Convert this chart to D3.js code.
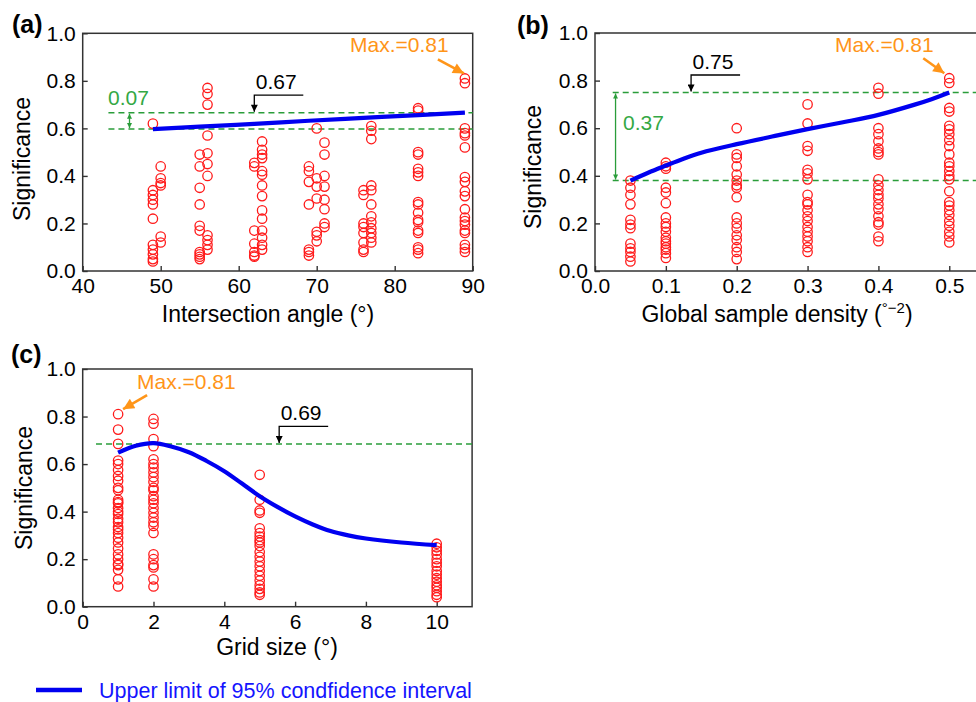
<!DOCTYPE html>
<html>
<head>
<meta charset="utf-8">
<script src="https://cdn.jsdelivr.net/npm/d3@7"></script>
<style>
  body { margin: 0; background: #fff; }
  svg { display: block; font-family: "Liberation Sans", Arial, sans-serif; }
</style>
</head>
<body>
<svg id="chart" width="976" height="702"></svg>
<script>
// ---------- Panel (a): Intersection angle ----------
const aX = [49, 50, 55, 56, 62, 63, 69, 70, 71, 76, 77, 83, 89];
const aY = [
  [0.62, 0.34, 0.32, 0.30, 0.28, 0.22, 0.11, 0.09, 0.07, 0.05, 0.04],
  [0.44, 0.39, 0.37, 0.36, 0.145, 0.12],
  [0.49, 0.44, 0.35, 0.28, 0.19, 0.17, 0.08, 0.07, 0.06, 0.05],
  [0.77, 0.745, 0.70, 0.57, 0.495, 0.45, 0.40, 0.15, 0.13, 0.11, 0.09],
  [0.455, 0.44, 0.17, 0.115, 0.08, 0.065, 0.06],
  [0.545, 0.51, 0.49, 0.475, 0.42, 0.405, 0.36, 0.315, 0.255, 0.22, 0.17, 0.14, 0.11, 0.09],
  [0.44, 0.42, 0.375, 0.28, 0.09, 0.08, 0.065],
  [0.60, 0.39, 0.355, 0.305, 0.165, 0.15, 0.125],
  [0.54, 0.49, 0.40, 0.355, 0.30, 0.26, 0.20, 0.185],
  [0.34, 0.32, 0.20, 0.185, 0.16, 0.12, 0.09, 0.08],
  [0.61, 0.59, 0.555, 0.36, 0.34, 0.28, 0.23, 0.205, 0.18, 0.16, 0.14, 0.12],
  [0.685, 0.675, 0.50, 0.49, 0.43, 0.415, 0.40, 0.29, 0.28, 0.245, 0.215, 0.205, 0.17, 0.16, 0.10, 0.09, 0.075],
  [0.81, 0.79, 0.60, 0.58, 0.57, 0.52, 0.395, 0.375, 0.335, 0.315, 0.26, 0.225, 0.21, 0.195, 0.17, 0.16, 0.11, 0.095, 0.08]
];
const aCurveX = [49, 55, 62, 69, 76, 83, 89];
const aCurveY = [0.597, 0.607, 0.619, 0.632, 0.644, 0.656, 0.666];
const aXTicks = [40, 50, 60, 70, 80, 90];

// ---------- Panel (b): Global sample density ----------
const bX = [0.05, 0.1, 0.2, 0.3, 0.4, 0.5];
const bY = [
  [0.38, 0.35, 0.32, 0.28, 0.215, 0.195, 0.18, 0.115, 0.095, 0.08, 0.06, 0.04],
  [0.455, 0.44, 0.43, 0.35, 0.33, 0.285, 0.225, 0.20, 0.185, 0.165, 0.14, 0.125, 0.115, 0.10, 0.09, 0.075, 0.055],
  [0.60, 0.49, 0.475, 0.44, 0.405, 0.38, 0.36, 0.35, 0.31, 0.225, 0.20, 0.18, 0.15, 0.13, 0.10, 0.08, 0.05],
  [0.70, 0.62, 0.525, 0.505, 0.425, 0.41, 0.385, 0.32, 0.29, 0.28, 0.255, 0.23, 0.21, 0.185, 0.165, 0.145, 0.125, 0.10, 0.08],
  [0.77, 0.745, 0.60, 0.575, 0.545, 0.515, 0.50, 0.49, 0.385, 0.36, 0.34, 0.32, 0.305, 0.28, 0.26, 0.23, 0.205, 0.195, 0.145, 0.125],
  [0.81, 0.79, 0.685, 0.67, 0.61, 0.595, 0.575, 0.55, 0.525, 0.49, 0.455, 0.44, 0.42, 0.40, 0.385, 0.335, 0.29, 0.275, 0.255, 0.235, 0.21, 0.19, 0.165, 0.145, 0.12]
];
const bCurveX = [0.05, 0.075, 0.1, 0.125, 0.15, 0.2, 0.25, 0.3, 0.35, 0.4, 0.45, 0.475, 0.5];
const bCurveY = [0.38, 0.413, 0.443, 0.472, 0.497, 0.533, 0.565, 0.596, 0.625, 0.656, 0.698, 0.722, 0.75];
const bXTicks = [0.0, 0.1, 0.2, 0.3, 0.4, 0.5];

// ---------- Panel (c): Grid size ----------
const cX = [1, 2, 5, 10];
const cY = [
  [0.81, 0.745, 0.685, 0.615, 0.60, 0.575, 0.55, 0.53, 0.50, 0.49, 0.45, 0.44, 0.435, 0.415, 0.40, 0.39, 0.37, 0.355, 0.335, 0.325, 0.31, 0.29, 0.27, 0.245, 0.22, 0.20, 0.18, 0.175, 0.155, 0.115, 0.085],
  [0.79, 0.77, 0.705, 0.675, 0.62, 0.60, 0.585, 0.565, 0.545, 0.525, 0.50, 0.49, 0.465, 0.45, 0.435, 0.415, 0.395, 0.375, 0.355, 0.34, 0.31, 0.22, 0.20, 0.175, 0.165, 0.115, 0.085],
  [0.555, 0.45, 0.405, 0.395, 0.33, 0.31, 0.295, 0.28, 0.27, 0.255, 0.23, 0.21, 0.19, 0.17, 0.15, 0.13, 0.11, 0.09, 0.075, 0.06, 0.05],
  [0.265, 0.25, 0.235, 0.22, 0.20, 0.185, 0.17, 0.15, 0.135, 0.12, 0.105, 0.09, 0.08, 0.065, 0.05, 0.04]
];
const cCurveX = [1, 1.5, 2, 2.5, 3, 3.5, 4, 4.5, 5, 5.5, 6, 6.5, 7, 7.5, 8, 9, 10];
const cCurveY = [0.648, 0.677, 0.688, 0.674, 0.650, 0.613, 0.570, 0.518, 0.465, 0.420, 0.380, 0.346, 0.318, 0.300, 0.287, 0.270, 0.259];
const cXTicks = [0, 2, 4, 6, 8, 10];

const yTicks = [0.0, 0.2, 0.4, 0.6, 0.8, 1.0];
const maxLabel = "Max.=0.81";
const legendLabel = "Upper limit of 95% condfidence interval";

// ---------- styles ----------
const RED = "#ff1a1a", BLUE = "#0000f0", GREEN = "#2a9d3a", GREEN_TXT = "#34a844",
      ORANGE = "#ff9519", AXIS = "#333";
const TICK_FS = 21, TITLE_FS = 23, ANN_FS = 21;

const svg = d3.select("#chart");
const defs = svg.append("defs");
function marker(id, color, w, h) {
  defs.append("marker").attr("id", id).attr("viewBox", "0 0 10 10")
    .attr("refX", 10).attr("refY", 5).attr("markerUnits", "userSpaceOnUse")
    .attr("markerWidth", w).attr("markerHeight", h).attr("orient", "auto-start-reverse")
    .append("path").attr("d", "M0,0 L10,5 L0,10 z").attr("fill", color);
}
marker("arrBlack", "#000", 9, 7);
marker("arrGreen", GREEN, 6, 5);
marker("arrOrange", ORANGE, 13, 11);

function panel(cfg) {
  const { x, y, xs, ys, curveX, curveY, xTicks, xFmt } = cfg;
  const g = svg.append("g");
  const [x0, x1] = x.range();
  const [y0, y1] = y.range();

  // axes (ticks inward)
  const ax = g.append("g").attr("transform", `translate(0,${y0})`)
    .call(d3.axisBottom(x).tickValues(xTicks).tickFormat(xFmt).tickSizeInner(-5).tickSizeOuter(0).tickPadding(7.5));
  const ay = g.append("g").attr("transform", `translate(${x0},0)`)
    .call(d3.axisLeft(y).tickValues(yTicks).tickFormat(d3.format(".1f")).tickSizeInner(-5).tickSizeOuter(0).tickPadding(7));
  [ax, ay].forEach(a => {
    a.select(".domain").remove();
    a.selectAll(".tick line").attr("stroke", AXIS).attr("stroke-width", 1.4);
    a.selectAll(".tick text").attr("fill", "#000").style("font-size", TICK_FS + "px")
      .style("font-family", '"Liberation Sans", Arial, sans-serif');
  });

  // frame
  g.append("rect").attr("x", x0).attr("y", y1).attr("width", x1 - x0).attr("height", y0 - y1)
    .attr("fill", "none").attr("stroke", AXIS).attr("stroke-width", 1.5);

  // reference lines
  cfg.refs.forEach(r => {
    g.append("line").attr("x1", x(cfg.refStart)).attr("x2", x1).attr("y1", y(r)).attr("y2", y(r))
      .attr("stroke", GREEN).attr("stroke-width", 1.5).attr("stroke-dasharray", "6,4");
  });

  // points
  const pts = [];
  xs.forEach((xv, i) => ys[i].forEach(v => pts.push([xv, v])));
  g.append("g").selectAll("circle").data(pts).join("circle")
    .attr("cx", d => x(d[0])).attr("cy", d => y(d[1])).attr("r", 4.7)
    .attr("fill", "none").attr("stroke", RED).attr("stroke-width", 1.3);

  // curve
  const line = d3.line().x((d, i) => x(curveX[i])).y(d => y(d)).curve(d3.curveCatmullRom.alpha(0.5));
  g.append("path").attr("d", line(curveY)).attr("fill", "none")
    .attr("stroke", BLUE).attr("stroke-width", 4.2).attr("stroke-linecap", "butt");

  // black elbow annotation
  const tipX = x(cfg.annX), tipY = y(cfg.annV);
  const elbowY = tipY - 17.5;
  g.append("path").attr("d", `M${tipX + 49},${elbowY} L${tipX},${elbowY} L${tipX},${tipY - 1}`)
    .attr("fill", "none").attr("stroke", "#000").attr("stroke-width", 1.3)
    .attr("marker-end", "url(#arrBlack)");
  g.append("text").attr("x", tipX + 1.5).attr("y", elbowY - 6.5).text(cfg.annText)
    .style("font-size", ANN_FS + "px").attr("fill", "#000");

  // green double arrow
  if (cfg.gap) {
    const gx = x(cfg.gap.x);
    g.append("line").attr("x1", gx).attr("x2", gx)
      .attr("y1", y(cfg.refs[0]) + 1).attr("y2", y(cfg.refs[1]) - 1)
      .attr("stroke", GREEN).attr("stroke-width", 1.3)
      .attr("marker-start", "url(#arrGreen)").attr("marker-end", "url(#arrGreen)");
    g.append("text").attr("x", cfg.gap.tx).attr("y", cfg.gap.ty).text(cfg.gap.text)
      .style("font-size", ANN_FS + "px").attr("fill", GREEN_TXT);
  }

  // orange max annotation
  const px = x(cfg.max.x), py = y(cfg.max.v);
  g.append("line").attr("x1", px + cfg.max.from[0]).attr("y1", py + cfg.max.from[1])
    .attr("x2", px + cfg.max.to[0]).attr("y2", py + cfg.max.to[1])
    .attr("stroke", ORANGE).attr("stroke-width", 2.6).attr("marker-end", "url(#arrOrange)");
  g.append("text").attr("x", cfg.max.tx).attr("y", cfg.max.ty).text(maxLabel)
    .style("font-size", ANN_FS + "px").attr("fill", ORANGE);

  // panel label
  g.append("text").attr("x", cfg.label[1]).attr("y", cfg.label[2]).text(cfg.label[0])
    .style("font-size", "25px").style("font-weight", "bold").attr("fill", "#000");

  // y title
  g.append("text").attr("transform", `translate(${cfg.yTitle[0]},${cfg.yTitle[1]}) rotate(-90)`)
    .attr("text-anchor", "middle").text("Significance")
    .style("font-size", TITLE_FS + "px").attr("fill", "#000");

  // x title
  const xt = g.append("text").attr("x", cfg.xTitle[0]).attr("y", cfg.xTitle[1])
    .attr("text-anchor", "middle").style("font-size", TITLE_FS + "px").attr("fill", "#000");
  cfg.xTitleParts.forEach(p => {
    const t = xt.append("tspan").text(p.t);
    if (p.sup) t.attr("dy", -9).style("font-size", "15px");
    if (p.down) t.attr("dy", 9);
  });
}

// Panel (a)
panel({
  x: d3.scaleLinear([40, 90], [82.7, 472.7]),
  y: d3.scaleLinear([0, 1], [271, 33.3]),
  xs: aX, ys: aY, curveX: aCurveX, curveY: aCurveY, xTicks: aXTicks, xFmt: d3.format("d"),
  refs: [0.666, 0.597], refStart: 43.3,
  annX: 62, annV: 0.666, annText: "0.67",
  gap: { x: 46, text: "0.07", tx: 108, ty: 105 },
  max: { x: 89, v: 0.81, from: [-27, -19], to: [-1, -5], tx: 350, ty: 52 },
  label: ["(a)", 12, 33],
  yTitle: [30, 159],
  xTitle: [268, 322],
  xTitleParts: [{ t: "Intersection angle (°)" }]
});

// Panel (b)
panel({
  x: d3.scaleLinear([0, 0.55], [595, 984.7]),
  y: d3.scaleLinear([0, 1], [271, 33]),
  xs: bX, ys: bY, curveX: bCurveX, curveY: bCurveY, xTicks: bXTicks, xFmt: d3.format(".1f"),
  refs: [0.75, 0.38], refStart: 0.025,
  annX: 0.1356, annV: 0.75, annText: "0.75",
  gap: { x: 0.029, text: "0.37", tx: 623, ty: 130 },
  max: { x: 0.5, v: 0.81, from: [-26, -20], to: [-5, -5], tx: 835, ty: 52 },
  label: ["(b)", 517, 34],
  yTitle: [541, 167],
  xTitle: [777, 322],
  xTitleParts: [{ t: "Global sample density (" }, { t: "°−2", sup: true }, { t: ")", down: true }]
});

// Panel (c)
panel({
  x: d3.scaleLinear([0, 11], [82.7, 472.1]),
  y: d3.scaleLinear([0, 1], [606.7, 369]),
  xs: cX, ys: cY, curveX: cCurveX, curveY: cCurveY, xTicks: cXTicks, xFmt: d3.format("d"),
  refs: [0.685], refStart: 0.376,
  annX: 5.55, annV: 0.685, annText: "0.69",
  gap: null,
  max: { x: 1, v: 0.81, from: [29, -19], to: [5, -5], tx: 137, ty: 389 },
  label: ["(c)", 11, 363],
  yTitle: [32, 488],
  xTitle: [277, 655],
  xTitleParts: [{ t: "Grid size (°)" }]
});

// Legend
svg.append("line").attr("x1", 36).attr("x2", 82).attr("y1", 690).attr("y2", 690)
  .attr("stroke", BLUE).attr("stroke-width", 4.5);
svg.append("text").attr("x", 99).attr("y", 698).text(legendLabel)
  .style("font-size", "21.5px").attr("fill", "#1414ff");
</script>
</body>
</html>
